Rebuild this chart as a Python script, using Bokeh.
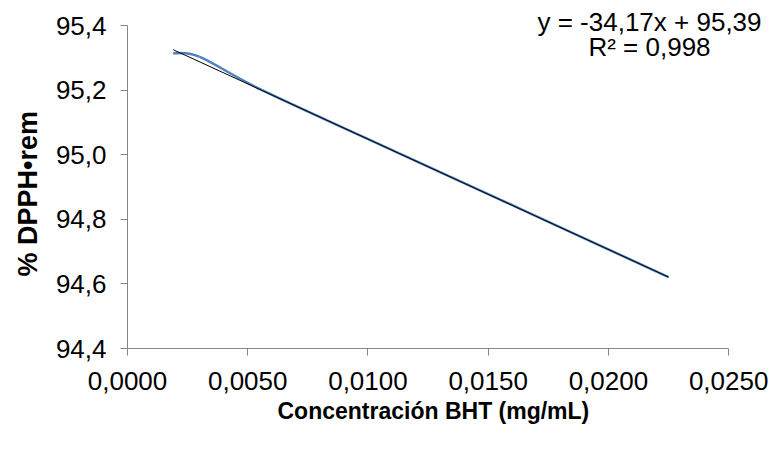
import numpy as np
from bokeh.plotting import figure
from bokeh.models import FixedTicker, Label, Range1d, Title
from bokeh.embed import file_html
from bokeh.resources import INLINE

# ---- data ----
conc = [0.0019, 0.0030, 0.0056, 0.0113, 0.0169, 0.0225]
dpph = [95.314, 95.303, 95.200, 95.004, 94.813, 94.621]
slope = -34.17
intercept = 95.39
eq_text = "y = -34,17x + 95,39"
r2_text = "R² = 0,998"
x_ticks = [0.0, 0.005, 0.010, 0.015, 0.020, 0.025]
x_tick_labels = ["0,0000", "0,0050", "0,0100", "0,0150", "0,0200", "0,0250"]
y_ticks = [94.4, 94.6, 94.8, 95.0, 95.2, 95.4]
y_tick_labels = ["94,4", "94,6", "94,8", "95,0", "95,2", "95,4"]
x_title = "Concentración BHT (mg/mL)"
y_title = "% DPPH•rem"

FONT = "Liberation Sans"
AX = "#868686"

# axis extents (the drawn axes stop at these bounds); the frame is padded so
# that the regression text in the upper-right corner is not clipped
x_lo, x_hi = 0.0, 0.025
y_lo, y_hi = 94.4, 95.4
frame_left, frame_bottom = 125, 103
plot_w_px, plot_h_px = 603, 323
W, H = 773, 451
x_end = x_lo + (x_hi - x_lo) * (W - frame_left) / plot_w_px
y_end = y_lo + (y_hi - y_lo) * (H - frame_bottom) / plot_h_px

p = figure(width=W, height=H, output_backend="svg", toolbar_location=None,
           x_range=Range1d(x_lo, x_end), y_range=Range1d(y_lo, y_end),
           min_border_left=frame_left, min_border_right=0, min_border_top=0,
           min_border_bottom=frame_bottom)
p.outline_line_color = None
p.grid.visible = False
p.background_fill_color = "white"
p.border_fill_color = "white"

# smoothed series (Excel-like bezier through the data points)
xs = np.array(conc); ys = np.array(dpph)
n = len(xs)
x0, y0, x1, y1, cx0, cy0, cx1, cy1 = [], [], [], [], [], [], [], []
for i in range(n - 1):
    im1 = max(i - 1, 0); ip2 = min(i + 2, n - 1)
    x0.append(xs[i]); y0.append(ys[i]); x1.append(xs[i + 1]); y1.append(ys[i + 1])
    cx0.append(xs[i] + (xs[i + 1] - xs[im1]) / 6); cy0.append(ys[i] + (ys[i + 1] - ys[im1]) / 6)
    cx1.append(xs[i + 1] - (xs[ip2] - xs[i]) / 6); cy1.append(ys[i + 1] - (ys[ip2] - ys[i]) / 6)
p.bezier(x0=x0, y0=y0, x1=x1, y1=y1, cx0=cx0, cy0=cy0, cx1=cx1, cy1=cy1,
         line_color="#4f81bd", line_width=2.5)

# linear trendline
tx = [min(conc), max(conc)]
ty = [slope * v + intercept for v in tx]
p.line(tx, ty, line_color="black", line_width=1)

for ax in (p.xaxis[0], p.yaxis[0]):
    ax.axis_line_color = AX
    ax.major_tick_line_color = AX
    ax.minor_tick_line_color = None
    ax.major_tick_in = 0
    ax.major_tick_out = 7
    ax.major_label_text_font = FONT
    ax.major_label_text_font_size = "26px"
    ax.major_label_text_color = "black"

p.xaxis.bounds = (x_lo, x_hi)
p.yaxis.bounds = (y_lo, y_hi)
p.xaxis.ticker = FixedTicker(ticks=x_ticks)
p.xaxis.major_label_overrides = dict(zip(x_ticks, x_tick_labels))
p.yaxis.ticker = FixedTicker(ticks=y_ticks)
p.yaxis.major_label_overrides = dict(zip(y_ticks, y_tick_labels))
p.xaxis.major_label_standoff = 16
p.yaxis.major_label_standoff = 14

# axis titles (as side titles so they can be centred on the drawn axes)
p.add_layout(Title(text=x_title, align="left", offset=150, standoff=6,
                   text_font=FONT, text_font_style="bold", text_font_size="23px",
                   text_color="black"), "below")
p.add_layout(Title(text=y_title, align="left", offset=72, standoff=20,
                   text_font=FONT, text_font_style="bold", text_font_size="27px",
                   text_color="black"), "left")

for txt, yy in ((eq_text, 327), (r2_text, 302)):
    p.add_layout(Label(x=522, y=yy, x_units="screen", y_units="screen", text=txt,
                       text_align="center", text_baseline="middle",
                       text_font=FONT, text_font_size="26px", text_color="black"))

open("out.html", "w").write(file_html(p, INLINE))
